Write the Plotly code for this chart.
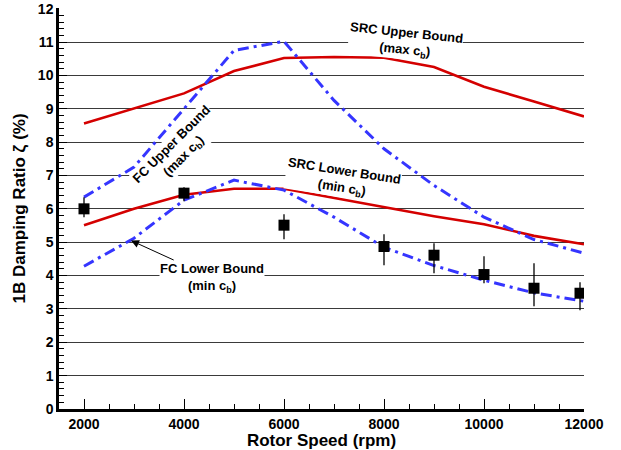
import plotly.graph_objects as go

rpm = [2000, 3000, 4000, 5000, 6000, 7000, 8000, 9000, 10000, 11000, 12000]
src_upper = [8.56, 9.0, 9.46, 10.13, 10.52, 10.55, 10.53, 10.25, 9.66, 9.22, 8.77]
src_lower = [5.51, 6.0, 6.42, 6.6, 6.6, 6.33, 6.07, 5.78, 5.54, 5.19, 4.94]
fc_upper = [6.35, 7.25, 9.0, 10.75, 11.02, 9.25, 7.8, 6.7, 5.75, 5.08, 4.67]
fc_lower = [4.28, 5.12, 6.26, 6.86, 6.56, 5.75, 4.85, 4.3, 3.86, 3.48, 3.23]

test_rpm = [2000, 4000, 6000, 8000, 9000, 10000, 11000, 11920]
test_zeta = [6.0, 6.47, 5.51, 4.87, 4.61, 4.03, 3.62, 3.47]
test_hi = [6.35, 6.65, 5.84, 5.24, 4.97, 4.58, 4.37, 3.80]
test_lo = [5.75, 6.23, 5.09, 4.31, 4.07, 3.77, 3.08, 2.96]

x_ticks = [2000, 4000, 6000, 8000, 10000, 12000]
y_ticks = list(range(0, 13))

FONT = "Liberation Sans"
RED = "#d40000"
BLUE = "#3535ff"
DASH = "11px,5px,3px,5px"

fig = go.Figure()
fig.add_trace(go.Scatter(x=rpm, y=src_upper, mode="lines",
                         line=dict(color=RED, width=2.6), hoverinfo="skip"))
fig.add_trace(go.Scatter(x=rpm, y=src_lower, mode="lines",
                         line=dict(color=RED, width=2.6), hoverinfo="skip"))
fig.add_trace(go.Scatter(x=rpm, y=fc_upper, mode="lines",
                         line=dict(color=BLUE, width=3, dash=DASH), hoverinfo="skip"))
fig.add_trace(go.Scatter(x=rpm, y=fc_lower, mode="lines",
                         line=dict(color=BLUE, width=3, dash=DASH), hoverinfo="skip"))
fig.add_trace(go.Scatter(
    x=test_rpm, y=test_zeta, mode="markers",
    marker=dict(symbol="square", size=11, color="black"),
    error_y=dict(type="data", symmetric=False,
                 array=[h - z for h, z in zip(test_hi, test_zeta)],
                 arrayminus=[z - l for z, l in zip(test_zeta, test_lo)],
                 color="black", thickness=1.3, width=0),
))

ann_font = dict(family=FONT, size=13, color="black", weight="bold")
fig.add_annotation(x=8430, y=11.0, xref="x", yref="y",
                   text="SRC Upper Bound<br>(max c<sub>b</sub>)",
                   showarrow=False, textangle=6, font=ann_font,
                   bgcolor="white", borderpad=0)
fig.add_annotation(x=7170, y=6.87, xref="x", yref="y",
                   text="SRC Lower Bound<br>(min c<sub>b</sub>)",
                   showarrow=False, textangle=9, font=ann_font,
                   bgcolor="white", borderpad=0)
fig.add_annotation(x=3880, y=7.72, xref="x", yref="y",
                   text="FC Upper Bound<br>(max c<sub>b</sub>)",
                   showarrow=False, textangle=-45, font=ann_font,
                   bgcolor="white", borderpad=0)
fig.add_annotation(x=2940, y=5.05, xref="x", yref="y",
                   text="FC Lower Bound<br>(min c<sub>b</sub>)",
                   showarrow=True, ax=81, ay=37, arrowhead=2, arrowsize=1.6,
                   arrowwidth=1, arrowcolor="black", font=ann_font,
                   bgcolor="white", borderpad=0)

fig.update_layout(
    width=621, height=450,
    margin=dict(l=59, r=37, t=8, b=41, autoexpand=False),
    paper_bgcolor="white", plot_bgcolor="white",
    showlegend=False,
    font=dict(family=FONT, color="black"),
    xaxis=dict(
        range=[1500, 12000], tickvals=x_ticks, ticktext=[str(v) for v in x_ticks],
        ticks="inside", ticklen=10, tickwidth=1.3, tickcolor="black",
        minor=dict(dtick=500, tick0=0, ticks="inside", ticklen=5, tickwidth=1, tickcolor="black", showgrid=False),
        showgrid=False, zeroline=False, automargin=False,
        showline=True, linecolor="black", linewidth=2.5,
        tickfont=dict(family=FONT, size=14, weight="bold"),
        title=dict(text="Rotor Speed (rpm)", font=dict(family=FONT, size=17, weight="bold"), standoff=2),
    ),
    yaxis=dict(
        range=[0, 12.02], tickvals=y_ticks, ticktext=[str(v) for v in y_ticks],
        ticks="inside", ticklen=8, tickwidth=1.3, tickcolor="black",
        minor=dict(dtick=0.2, tick0=0, ticks="inside", ticklen=5, tickwidth=1, tickcolor="black", showgrid=False),
        showgrid=True, gridcolor="#3a3a3a", gridwidth=1.2, zeroline=False, automargin=False,
        showline=True, linecolor="black", linewidth=2.5,
        tickfont=dict(family=FONT, size=14, weight="bold"),
        title=dict(text="1B Damping Ratio ζ (%)", font=dict(family=FONT, size=17, weight="bold"), standoff=8),
    ),
)

fig.write_html("out.html")
